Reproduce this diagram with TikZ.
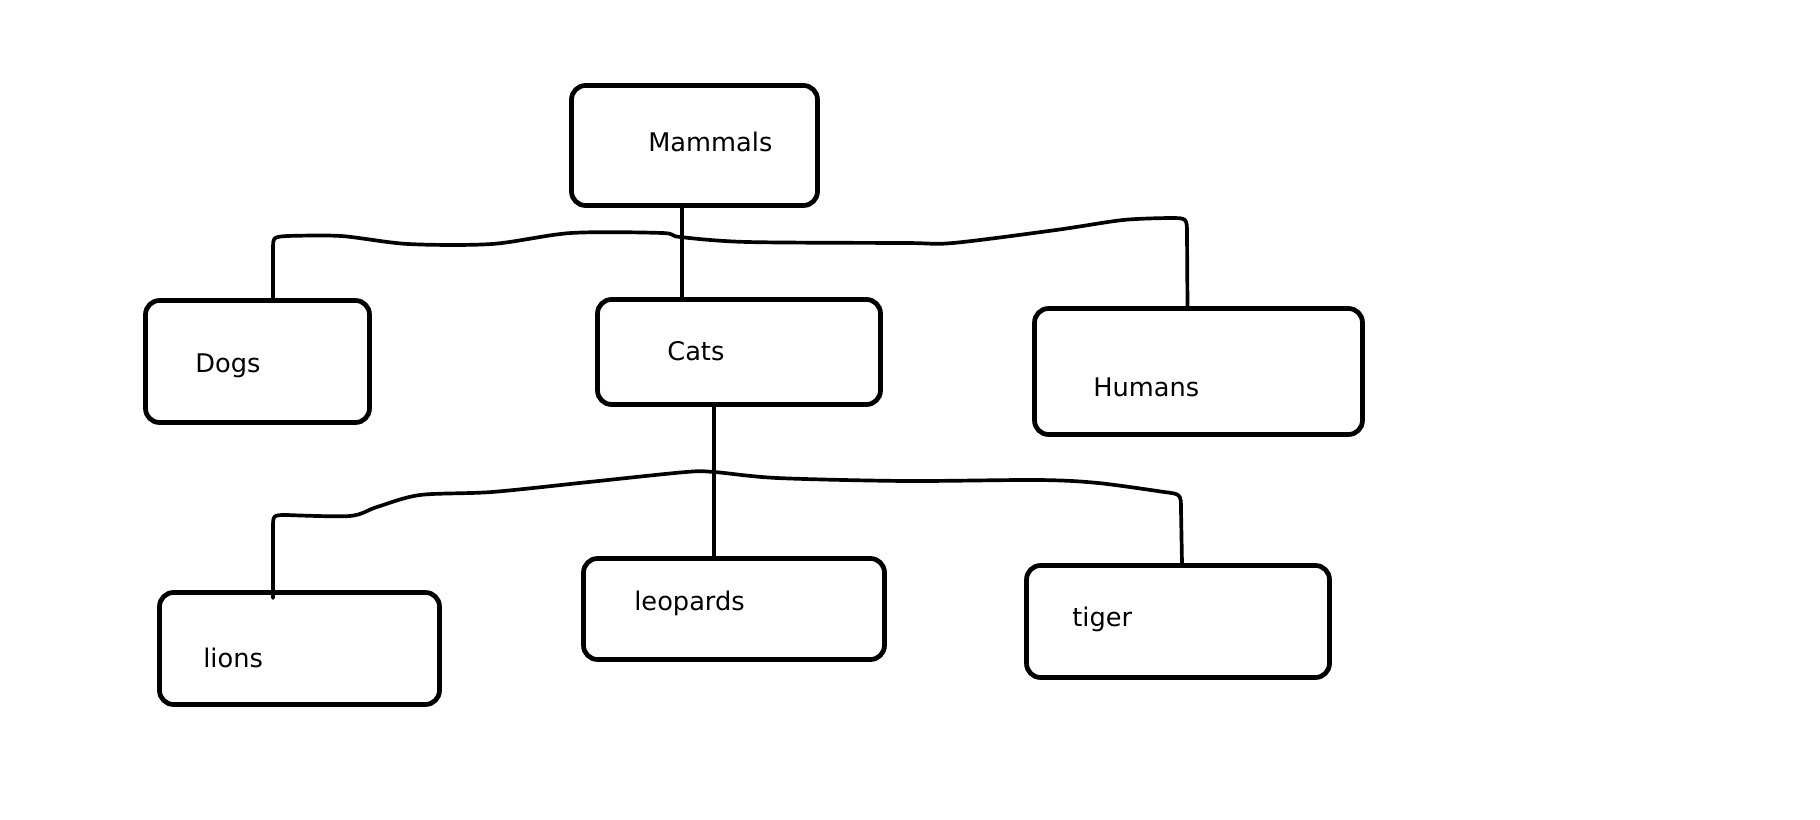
\documentclass[tikz,border=0pt]{standalone}
\usepackage{fontspec}
\setmainfont{DejaVu Sans}
\usepackage{tikz}
\usetikzlibrary{calc}

\begin{document}
\begin{tikzpicture}[
  x=0.02cm, y=-0.02cm,
  box/.style={draw, line width=2.7pt, rounded corners=0.28cm, inner sep=0pt},
  txt/.style={anchor=base west, inner sep=0pt, font=\fontsize{14.6}{17}\selectfont},
  wire/.style={line width=2.1pt, line join=round, line cap=round}
]
  \useasboundingbox (0,0) rectangle (1820,820);

  % boxes
  \node[box, minimum width=4.92cm, minimum height=2.40cm] (mammals) at (694.5,145.5) {};
  \node[box, minimum width=4.48cm, minimum height=2.44cm] (dogs) at (257.5,361.5) {};
  \node[box, minimum width=5.66cm, minimum height=2.10cm] (cats) at (739,352) {};
  \node[box, minimum width=6.56cm, minimum height=2.52cm] (humans) at (1198.5,371.5) {};
  \node[box, minimum width=5.60cm, minimum height=2.24cm] (lions) at (299.5,648.5) {};
  \node[box, minimum width=6.02cm, minimum height=2.02cm] (leopards) at (734,609) {};
  \node[box, minimum width=6.06cm, minimum height=2.24cm] (tiger) at (1178,621.5) {};

  % labels
  \node[txt] (mammalsT) at (648,152) {Mammals};
  \node[txt] (dogsT) at (195,373) {Dogs};
  \node[txt] (catsT) at (667,361) {Cats};
  \node[txt] (humansT) at (1093,397) {Humans};
  \node[txt] (lionsT) at (203,668) {lions};
  \node[txt] (leopardsT) at (634,611) {leopards};
  \node[txt] (tigerT) at (1072,627) {tiger};

  % first level
  \draw[wire] ($(mammals.south)+(-12.5,0)$) -- ($(cats.north)+(-57,0)$);
  \draw[wire] ($(dogs.north)+(15.5,0)$) -- (273,250) .. controls (273,237) .. (287,236)
    -- plot[smooth, tension=0.5] coordinates {(287,236) (341,236) (408,244) (492,244) (571,233) (662,233) (680,237) (747,242) (905,243) (953,243) (1056,230) (1123,220) (1170,218)}
    .. controls (1187,218) .. (1187,234) -- ($(humans.north)+(-11,0)$);

  % second level
  \draw[wire] ($(cats.south)+(-25,0)$) -- ($(leopards.north)+(-20,0)$);
  \draw[wire] ($(lions.north)+(-26.5,8)$) -- (273,528) .. controls (273,515) .. (287,515)
    -- plot[smooth, tension=0.5] coordinates {(287,515) (350,516) (377,507) (420,495) (492,492) (589,482) (686,472) (714,472) (777,478) (905,481) (1038,480) (1098,483) (1164,492)}
    .. controls (1181,494) .. (1181,510) -- ($(tiger.north)+(4,0)$);
\end{tikzpicture}
\end{document}
